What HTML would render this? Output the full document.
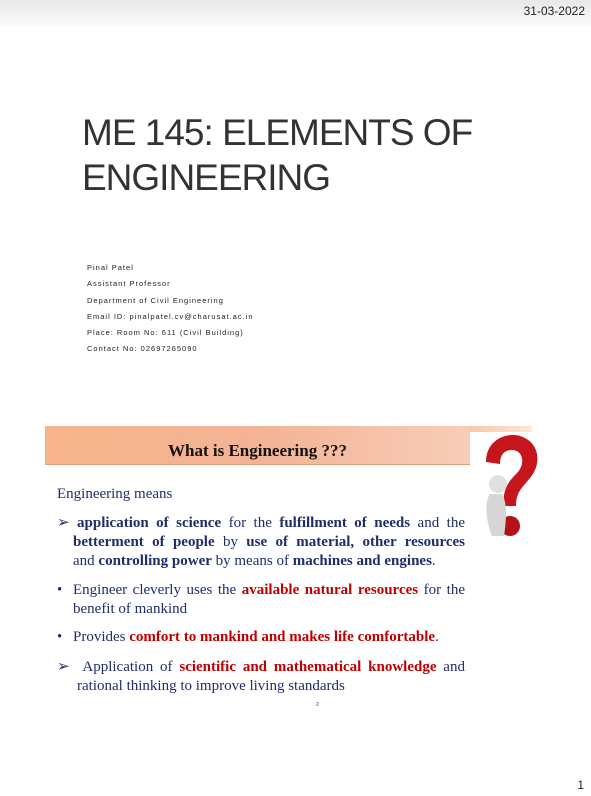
<!DOCTYPE html>
<html><head><meta charset="utf-8"><style>
body{margin:0;width:591px;height:796px;position:relative;background:#fff;overflow:hidden;font-family:"Liberation Sans",sans-serif}
.abs{position:absolute}
.serif{font-family:"Liberation Serif",serif}
.b{font-weight:bold;color:#1f2d6b}
.r{font-weight:bold;color:#c00000}
.det div{font-size:7.5px;letter-spacing:1px;color:#222;height:16.3px}
.txt{font-size:15px;line-height:19px;color:#1f2d6b}
.j{text-align:justify;text-align-last:justify;white-space:nowrap;height:19px}
</style></head><body>
<div class="abs" style="left:0;top:0;width:591px;height:26px;background:linear-gradient(#e8e8e8,#fafafa)"></div>
<div class="abs" style="right:6px;top:4px;font-size:12px;color:#222">31-03-2022</div>
<div class="abs" style="left:82px;top:110px;font-size:37px;line-height:45px;color:#333;letter-spacing:-1px">ME 145: ELEMENTS OF<br>ENGINEERING</div>
<div class="abs det" style="left:87px;top:263px">
<div>Pinal Patel</div><div>Assistant Professor</div><div>Department of Civil Engineering</div><div>Email ID: pinalpatel.cv@charusat.ac.in</div><div>Place: Room No: 611 (Civil Building)</div><div>Contact No: 02697265090</div></div>
<div class="abs" style="left:45px;top:426px;width:425px;height:38px;background:linear-gradient(90deg,#f7b48a,#f3b394 50%,#f8cdb8);border-bottom:1px solid #d9a080"></div>
<div class="abs" style="left:470px;top:426px;width:62px;height:6px;background:linear-gradient(90deg,#f7c9a8,#fde6d6)"></div>
<div class="abs serif" style="left:45px;top:441px;width:425px;text-align:center;font-size:17px;font-weight:bold;color:#111">What is Engineering ???</div>
<svg class="abs" style="left:478px;top:432px" width="68" height="110" viewBox="0 0 68 110">
<path d="M8 30 C8 8 28 0 42 4 C62 10 64 32 52 46 C44 56 38 60 38 74 L26 74 C24 56 32 48 40 40 C48 30 44 18 34 18 C24 18 22 26 22 32 Z" fill="#c4161c"/>
<circle cx="32" cy="94" r="10" fill="#b31217"/>
<circle cx="20" cy="52" r="9" fill="#e0e0e0"/>
<path d="M12 62 C6 70 8 90 14 104 L26 104 C28 90 30 72 24 62 Z" fill="#d6d6d6"/>
</svg>
<div class="abs serif txt" style="left:57px;top:485px">Engineering means</div>
<div class="abs serif txt j" style="left:57px;top:514px;width:408px">&#10146; <span class="b">application of science</span> for the <span class="b">fulfillment of needs</span> and the</div>
<div class="abs serif txt j" style="left:73px;top:533px;width:392px"><span class="b">betterment of people</span> by <span class="b">use of material, other resources</span></div>
<div class="abs serif txt" style="left:73px;top:552px;width:392px">and <span class="b">controlling power</span> by means of <span class="b">machines and engines</span>.</div>
<div class="abs serif txt j" style="left:57px;top:581px;width:408px"><span style="display:inline-block;width:16px;text-align:left">•</span>Engineer cleverly uses the <span class="r">available natural resources</span> for the</div>
<div class="abs serif txt" style="left:73px;top:600px">benefit of mankind</div>
<div class="abs serif txt" style="left:57px;top:628px;width:420px"><span style="display:inline-block;width:16px">•</span>Provides <span class="r">comfort to mankind and makes life comfortable</span>.</div>
<div class="abs serif txt j" style="left:57px;top:658px;width:408px">&#10146;&nbsp; Application of <span class="r">scientific and mathematical knowledge</span> and</div>
<div class="abs serif txt" style="left:77px;top:677px">rational thinking to improve living standards</div>
<div class="abs" style="left:316px;top:702px;font-size:5px;color:#333">2</div>
<div class="abs" style="right:7px;top:778px;font-size:12px;color:#222">1</div>
</body></html>
